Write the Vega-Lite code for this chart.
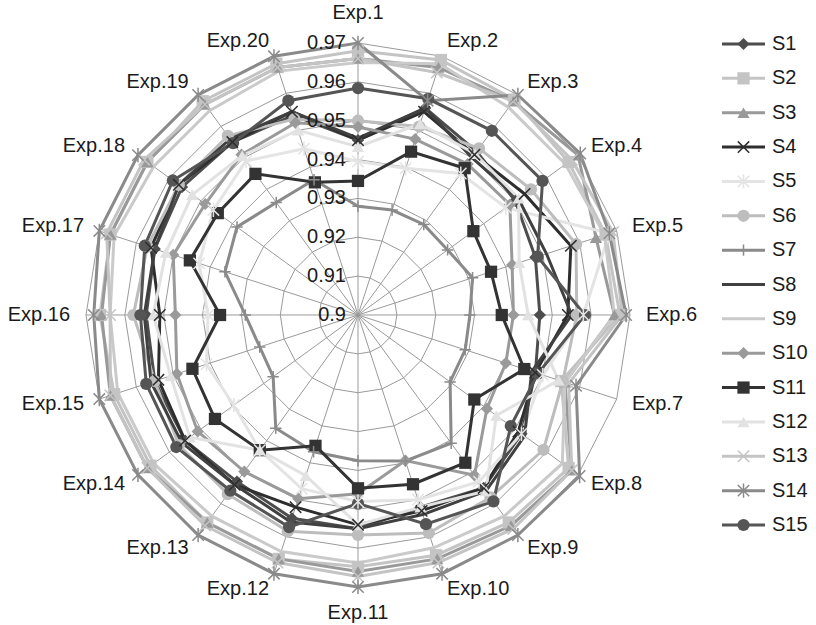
{
  "$schema": "https://vega.github.io/schema/vega-lite/v6.json",
  "width": 816,
  "height": 625,
  "autosize": {"type": "none"},
  "padding": 0,
  "background": "white",
  "config": {"view": {"stroke": null}, "text": {"font": "Liberation Sans"}},
  "datasets": {
    "series": [
      {"s": "S1", "e": [1,2,3,4,5,6,7,8,9,10,11,12,13,14,15,16,17,18,19,20], "v": [0.945,0.956,0.952,0.950,0.948,0.9468,0.948,0.952,0.955,0.952,0.955,0.955,0.953,0.955,0.955,0.9545,0.955,0.956,0.955,0.954]},
      {"s": "S2", "e": [1,2,3,4,5,6,7,8,9,10,11,12,13,14,15,16,17,18,19,20], "v": [0.968,0.969,0.9685,0.967,0.967,0.9674,0.955,0.967,0.966,0.965,0.9648,0.966,0.966,0.966,0.966,0.9664,0.967,0.967,0.968,0.968]},
      {"s": "S3", "e": [1,2,3,4,5,6,7,8,9,10,11,12,13,14,15,16,17,18,19,20], "v": [0.966,0.967,0.968,0.970,0.9644,0.966,0.956,0.968,0.967,0.966,0.966,0.966,0.966,0.967,0.967,0.966,0.967,0.967,0.967,0.967]},
      {"s": "S4", "e": [1,2,3,4,5,6,7,8,9,10,11,12,13,14,15,16,17,18,19,20], "v": [0.945,0.955,0.951,0.953,0.9576,0.954,0.948,0.951,0.955,0.953,0.954,0.952,0.954,0.955,0.954,0.951,0.956,0.957,0.955,0.955]},
      {"s": "S5", "e": [1,2,3,4,5,6,7,8,9,10,11,12,13,14,15,16,17,18,19,20], "v": [0.9395,0.9397,0.945,0.947,0.968,0.958,0.950,0.952,0.953,0.950,0.948,0.947,0.943,0.9395,0.941,0.9386,0.943,0.946,0.949,0.945]},
      {"s": "S6", "e": [1,2,3,4,5,6,7,8,9,10,11,12,13,14,15,16,17,18,19,20], "v": [0.950,0.951,0.953,0.955,0.959,0.9563,0.9554,0.959,0.958,0.959,0.9566,0.9585,0.957,0.957,0.955,0.9578,0.957,0.957,0.957,0.953]},
      {"s": "S7", "e": [1,2,3,4,5,6,7,8,9,10,11,12,13,14,15,16,17,18,19,20], "v": [0.928,0.9284,0.9288,0.9285,0.931,0.9288,0.929,0.9293,0.9408,0.9395,0.9375,0.937,0.936,0.927,0.9266,0.929,0.936,0.9385,0.9358,0.9366]},
      {"s": "S8", "e": [1,2,3,4,5,6,7,8,9,10,11,12,13,14,15,16,17,18,19,20], "v": [0.9455,0.956,0.950,0.951,0.951,0.955,0.947,0.953,0.956,0.954,0.955,0.956,0.954,0.956,0.956,0.955,0.955,0.957,0.956,0.955]},
      {"s": "S9", "e": [1,2,3,4,5,6,7,8,9,10,11,12,13,14,15,16,17,18,19,20], "v": [0.965,0.968,0.966,0.966,0.9667,0.966,0.956,0.965,0.964,0.963,0.9638,0.964,0.964,0.965,0.965,0.9638,0.966,0.965,0.965,0.966]},
      {"s": "S10", "e": [1,2,3,4,5,6,7,8,9,10,11,12,13,14,15,16,17,18,19,20], "v": [0.9484,0.9476,0.948,0.9483,0.9417,0.940,0.940,0.941,0.951,0.9394,0.946,0.9497,0.9498,0.951,0.949,0.947,0.950,0.9486,0.951,0.952]},
      {"s": "S11", "e": [1,2,3,4,5,6,7,8,9,10,11,12,13,14,15,16,17,18,19,20], "v": [0.9345,0.9442,0.9467,0.9367,0.936,0.937,0.945,0.937,0.947,0.9458,0.9446,0.9354,0.943,0.9455,0.9448,0.9355,0.9455,0.9446,0.9449,0.9359]},
      {"s": "S12", "e": [1,2,3,4,5,6,7,8,9,10,11,12,13,14,15,16,17,18,19,20], "v": [0.9433,0.9517,0.9513,0.9511,0.9436,0.9438,0.9543,0.944,0.956,0.952,0.954,0.9435,0.943,0.9535,0.9507,0.9527,0.952,0.9527,0.9507,0.950]},
      {"s": "S13", "e": [1,2,3,4,5,6,7,8,9,10,11,12,13,14,15,16,17,18,19,20], "v": [0.966,0.9656,0.968,0.968,0.969,0.968,0.957,0.968,0.968,0.967,0.9673,0.967,0.967,0.967,0.967,0.9638,0.968,0.968,0.967,0.967]},
      {"s": "S14", "e": [1,2,3,4,5,6,7,8,9,10,11,12,13,14,15,16,17,18,19,20], "v": [0.970,0.958,0.970,0.9707,0.968,0.969,0.959,0.9705,0.970,0.970,0.970,0.970,0.970,0.970,0.970,0.968,0.970,0.970,0.970,0.970]},
      {"s": "S15", "e": [1,2,3,4,5,6,7,8,9,10,11,12,13,14,15,16,17,18,19,20], "v": [0.9584,0.9585,0.9586,0.9587,0.9486,0.9584,0.9487,0.9486,0.9593,0.9566,0.9485,0.9574,0.9559,0.9578,0.9573,0.956,0.9577,0.9589,0.9547,0.958]}
    ],
    "rings": [
      {"lv": 0.91, "e": [1,2,3,4,5,6,7,8,9,10,11,12,13,14,15,16,17,18,19,20]},
      {"lv": 0.92, "e": [1,2,3,4,5,6,7,8,9,10,11,12,13,14,15,16,17,18,19,20]},
      {"lv": 0.93, "e": [1,2,3,4,5,6,7,8,9,10,11,12,13,14,15,16,17,18,19,20]},
      {"lv": 0.94, "e": [1,2,3,4,5,6,7,8,9,10,11,12,13,14,15,16,17,18,19,20]},
      {"lv": 0.95, "e": [1,2,3,4,5,6,7,8,9,10,11,12,13,14,15,16,17,18,19,20]},
      {"lv": 0.96, "e": [1,2,3,4,5,6,7,8,9,10,11,12,13,14,15,16,17,18,19,20]},
      {"lv": 0.97, "e": [1,2,3,4,5,6,7,8,9,10,11,12,13,14,15,16,17,18,19,20]}
    ],
    "spokes": [
      {"e": 1, "label": "Exp.1"}, {"e": 2, "label": "Exp.2"}, {"e": 3, "label": "Exp.3"}, {"e": 4, "label": "Exp.4"},
      {"e": 5, "label": "Exp.5"}, {"e": 6, "label": "Exp.6"}, {"e": 7, "label": "Exp.7"}, {"e": 8, "label": "Exp.8"},
      {"e": 9, "label": "Exp.9"}, {"e": 10, "label": "Exp.10"}, {"e": 11, "label": "Exp.11"}, {"e": 12, "label": "Exp.12"},
      {"e": 13, "label": "Exp.13"}, {"e": 14, "label": "Exp.14"}, {"e": 15, "label": "Exp.15"}, {"e": 16, "label": "Exp.16"},
      {"e": 17, "label": "Exp.17"}, {"e": 18, "label": "Exp.18"}, {"e": 19, "label": "Exp.19"}, {"e": 20, "label": "Exp.20"}
    ],
    "ticks": [
      {"lv": 0.9, "t": "0.9"}, {"lv": 0.91, "t": "0.91"}, {"lv": 0.92, "t": "0.92"}, {"lv": 0.93, "t": "0.93"},
      {"lv": 0.94, "t": "0.94"}, {"lv": 0.95, "t": "0.95"}, {"lv": 0.96, "t": "0.96"}, {"lv": 0.97, "t": "0.97"}
    ]
  },
  "resolve": {"scale": {"y": "independent"}},
  "layer": [
    {
      "layer": [
        {
          "data": {"name": "rings"},
          "transform": [
            {"flatten": ["e"]},
            {"calculate": "(datum.e-1)*PI/10", "as": "th"},
            {"calculate": "(datum.lv-0.9)/0.07", "as": "r"},
            {"calculate": "datum.r*sin(datum.th)", "as": "x"},
            {"calculate": "datum.r*cos(datum.th)", "as": "y"}
          ],
          "mark": {"type": "line", "interpolate": "linear-closed", "stroke": "#9a9a9a", "strokeWidth": 1},
          "encoding": {
            "x": {"field": "x", "type": "quantitative", "scale": {"domain": [-1.31618, 1.68382], "nice": false, "zero": false}, "axis": null},
            "y": {"field": "y", "type": "quantitative", "scale": {"domain": [-1.13971, 1.15809], "nice": false, "zero": false}, "axis": null},
            "detail": {"field": "lv", "type": "nominal"},
            "order": {"field": "e", "type": "quantitative"}
          }
        },
        {
          "data": {"name": "spokes"},
          "transform": [
            {"calculate": "(datum.e-1)*PI/10", "as": "th"},
            {"calculate": "0", "as": "zero"},
            {"calculate": "sin(datum.th)", "as": "sx"},
            {"calculate": "cos(datum.th)", "as": "sy"}
          ],
          "mark": {"type": "rule", "stroke": "#9a9a9a", "strokeWidth": 1},
          "encoding": {
            "x": {"field": "zero", "type": "quantitative", "axis": null},
            "y": {"field": "zero", "type": "quantitative", "axis": null},
            "x2": {"field": "sx"},
            "y2": {"field": "sy"}
          }
        },
        {
          "data": {"name": "series"},
          "transform": [
            {"flatten": ["e", "v"]},
            {"calculate": "(datum.e-1)*PI/10", "as": "th"},
            {"calculate": "(datum.v-0.9)/0.07", "as": "r"},
            {"calculate": "datum.r*sin(datum.th)", "as": "x"},
            {"calculate": "datum.r*cos(datum.th)", "as": "y"}
          ],
          "mark": {"type": "line", "interpolate": "linear-closed", "strokeWidth": 3},
          "encoding": {
            "x": {"field": "x", "type": "quantitative", "axis": null},
            "y": {"field": "y", "type": "quantitative", "axis": null},
            "color": {"field": "s", "type": "nominal", "legend": null,
              "scale": {"domain": ["S1","S2","S3","S4","S5","S6","S7","S8","S9","S10","S11","S12","S13","S14","S15"],
                        "range": ["#4d4d4d","#c4c4c4","#999999","#2e2e2e","#e4e4e4","#bdbdbd","#8a8a8a","#404040","#cacaca","#9a9a9a","#333333","#e2e2e2","#c4c4c4","#8a8a8a","#555555"]}},
            "order": {"field": "e", "type": "quantitative"}
          }
        },
        {
          "data": {"name": "series"},
          "transform": [
            {"flatten": ["e", "v"]},
            {"filter": "indexof(['S1','S2','S3','S6','S10','S11','S12','S15'], datum.s) >= 0"},
            {"calculate": "(datum.e-1)*PI/10", "as": "th"},
            {"calculate": "(datum.v-0.9)/0.07", "as": "r"},
            {"calculate": "datum.r*sin(datum.th)", "as": "x"},
            {"calculate": "datum.r*cos(datum.th)", "as": "y"}
          ],
          "mark": {"type": "point", "filled": true, "opacity": 1, "size": 150},
          "encoding": {
            "x": {"field": "x", "type": "quantitative", "axis": null},
            "y": {"field": "y", "type": "quantitative", "axis": null},
            "color": {"field": "s", "type": "nominal", "legend": null},
            "shape": {"field": "s", "type": "nominal", "legend": null,
              "scale": {"domain": ["S1","S2","S3","S4","S5","S6","S7","S8","S9","S10","S11","S12","S13","S14","S15"],
                        "range": ["diamond","square","triangle-up","M-1,-1L1,1M-1,1L1,-1","M-1,-1L1,1M-1,1L1,-1M0,-1.25L0,1.25","circle","M0,-1L0,1M-1,0L1,0","circle","circle","diamond","square","triangle-up","M-1,-1L1,1M-1,1L1,-1","M-1,-1L1,1M-1,1L1,-1M0,-1.25L0,1.25","circle"]}}
          }
        },
        {
          "data": {"name": "series"},
          "transform": [
            {"flatten": ["e", "v"]},
            {"filter": "indexof(['S4','S5','S7','S13','S14'], datum.s) >= 0"},
            {"calculate": "(datum.e-1)*PI/10", "as": "th"},
            {"calculate": "(datum.v-0.9)/0.07", "as": "r"},
            {"calculate": "datum.r*sin(datum.th)", "as": "x"},
            {"calculate": "datum.r*cos(datum.th)", "as": "y"}
          ],
          "mark": {"type": "point", "filled": false, "opacity": 1, "strokeWidth": 1.5, "size": 130},
          "encoding": {
            "x": {"field": "x", "type": "quantitative", "axis": null},
            "y": {"field": "y", "type": "quantitative", "axis": null},
            "color": {"field": "s", "type": "nominal", "legend": null},
            "shape": {"field": "s", "type": "nominal", "legend": null}
          }
        },
        {
          "data": {"name": "ticks"},
          "transform": [{"calculate": "(datum.lv-0.9)/0.07", "as": "r"}, {"calculate": "0", "as": "zero"}],
          "mark": {"type": "text", "align": "right", "baseline": "middle", "dx": -12, "fontSize": 20, "color": "#1a1a1a"},
          "encoding": {
            "x": {"field": "zero", "type": "quantitative", "axis": null},
            "y": {"field": "r", "type": "quantitative", "axis": null},
            "text": {"field": "t", "type": "nominal"}
          }
        },
        {
          "data": {"name": "spokes"},
          "transform": [
            {"filter": "datum.e > 1 && datum.e < 11"},
            {"calculate": "(datum.e-1)*PI/10", "as": "th"},
            {"calculate": "1.0588*sin(datum.th)", "as": "x"},
            {"calculate": "1.0588*cos(datum.th)", "as": "y"}
          ],
          "mark": {"type": "text", "align": "left", "baseline": "middle", "fontSize": 20, "color": "#1a1a1a"},
          "encoding": {
            "x": {"field": "x", "type": "quantitative", "axis": null},
            "y": {"field": "y", "type": "quantitative", "axis": null},
            "text": {"field": "label", "type": "nominal"}
          }
        },
        {
          "data": {"name": "spokes"},
          "transform": [
            {"filter": "datum.e > 11"},
            {"calculate": "(datum.e-1)*PI/10", "as": "th"},
            {"calculate": "1.0588*sin(datum.th)", "as": "x"},
            {"calculate": "1.0588*cos(datum.th)", "as": "y"}
          ],
          "mark": {"type": "text", "align": "right", "baseline": "middle", "fontSize": 20, "color": "#1a1a1a"},
          "encoding": {
            "x": {"field": "x", "type": "quantitative", "axis": null},
            "y": {"field": "y", "type": "quantitative", "axis": null},
            "text": {"field": "label", "type": "nominal"}
          }
        },
        {
          "data": {"name": "spokes"},
          "transform": [
            {"filter": "datum.e == 1"},
            {"calculate": "0", "as": "x"},
            {"calculate": "1.0588", "as": "y"}
          ],
          "mark": {"type": "text", "align": "center", "baseline": "bottom", "dy": -4, "fontSize": 20, "color": "#1a1a1a"},
          "encoding": {
            "x": {"field": "x", "type": "quantitative", "axis": null},
            "y": {"field": "y", "type": "quantitative", "axis": null},
            "text": {"field": "label", "type": "nominal"}
          }
        },
        {
          "data": {"name": "spokes"},
          "transform": [
            {"filter": "datum.e == 11"},
            {"calculate": "0", "as": "x"},
            {"calculate": "-1.0588", "as": "y"}
          ],
          "mark": {"type": "text", "align": "center", "baseline": "top", "fontSize": 20, "color": "#1a1a1a"},
          "encoding": {
            "x": {"field": "x", "type": "quantitative", "axis": null},
            "y": {"field": "y", "type": "quantitative", "axis": null},
            "text": {"field": "label", "type": "nominal"}
          }
        }
      ]
    },
    {
      "layer": [
        {
          "data": {"name": "series"},
          "transform": [{"calculate": "1.3382", "as": "lx1"}, {"calculate": "1.4963", "as": "lx2"}],
          "mark": {"type": "rule", "strokeWidth": 3},
          "encoding": {
            "x": {"field": "lx1", "type": "quantitative", "axis": null},
            "x2": {"field": "lx2"},
            "y": {"field": "s", "type": "nominal", "axis": null,
              "scale": {"type": "point", "domain": ["S1","S2","S3","S4","S5","S6","S7","S8","S9","S10","S11","S12","S13","S14","S15"], "range": [44, 525], "padding": 0}},
            "color": {"field": "s", "type": "nominal", "legend": null}
          }
        },
        {
          "data": {"name": "series"},
          "transform": [
            {"filter": "indexof(['S1','S2','S3','S6','S10','S11','S12','S15'], datum.s) >= 0"},
            {"calculate": "1.4173", "as": "lx"}
          ],
          "mark": {"type": "point", "filled": true, "opacity": 1, "size": 150},
          "encoding": {
            "x": {"field": "lx", "type": "quantitative", "axis": null},
            "y": {"field": "s", "type": "nominal", "axis": null},
            "color": {"field": "s", "type": "nominal", "legend": null},
            "shape": {"field": "s", "type": "nominal", "legend": null}
          }
        },
        {
          "data": {"name": "series"},
          "transform": [
            {"filter": "indexof(['S4','S5','S7','S13','S14'], datum.s) >= 0"},
            {"calculate": "1.4173", "as": "lx"}
          ],
          "mark": {"type": "point", "filled": false, "opacity": 1, "strokeWidth": 1.5, "size": 130},
          "encoding": {
            "x": {"field": "lx", "type": "quantitative", "axis": null},
            "y": {"field": "s", "type": "nominal", "axis": null},
            "color": {"field": "s", "type": "nominal", "legend": null},
            "shape": {"field": "s", "type": "nominal", "legend": null}
          }
        },
        {
          "data": {"name": "series"},
          "transform": [{"calculate": "1.5221", "as": "lx"}],
          "mark": {"type": "text", "align": "left", "baseline": "middle", "fontSize": 20, "color": "#1a1a1a"},
          "encoding": {
            "x": {"field": "lx", "type": "quantitative", "axis": null},
            "y": {"field": "s", "type": "nominal", "axis": null},
            "text": {"field": "s", "type": "nominal"}
          }
        }
      ]
    }
  ]
}
